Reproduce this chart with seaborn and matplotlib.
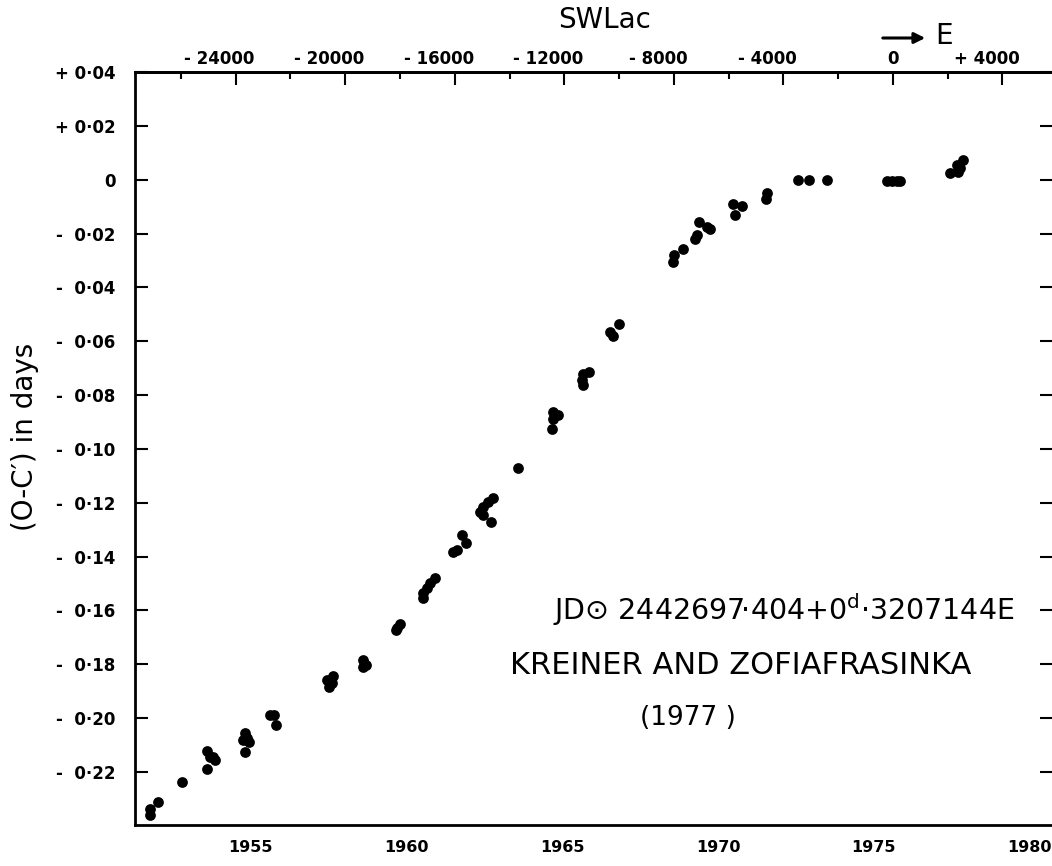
import numpy as np
import pandas as pd
import matplotlib
matplotlib.use("Agg")
import matplotlib.pyplot as plt
from matplotlib.ticker import FixedLocator
from matplotlib.transforms import ScaledTranslation
import seaborn as sns

# ---- data: (year, O-C in days) ----
years = [1951.79, 1951.79, 1952.05, 1952.82,
         1953.62, 1953.62, 1953.81, 1953.88, 1953.72,
         1954.84, 1954.78, 1954.90, 1954.97, 1954.84,
         1955.64, 1955.77, 1955.83,
         1957.47, 1957.53, 1957.66, 1957.63,
         1958.62, 1958.72, 1958.62,
         1959.71, 1959.81, 1959.68,
         1960.93, 1960.77, 1960.67, 1960.54, 1960.54,
         1961.79, 1961.92, 1961.63, 1961.51,
         1962.79, 1962.63, 1962.47, 1962.37, 1962.47, 1962.72,
         1963.59,
         1964.71, 1964.87, 1964.71, 1964.68,
         1965.87, 1965.67, 1965.64, 1965.67,
         1966.83, 1966.54, 1966.63,
         1968.56, 1968.59, 1968.88,
         1969.26, 1969.33, 1969.39, 1969.65, 1969.74,
         1970.54, 1970.48, 1970.77,
         1971.57, 1971.54,
         1972.56, 1972.92, 1973.49,
         1975.42, 1975.58, 1975.74, 1975.83,
         1977.44, 1977.66, 1977.76, 1977.85, 1977.69]
oc = [-0.2338, -0.2360, -0.2312, -0.2237,
      -0.2122, -0.2189, -0.2145, -0.2156, -0.2145,
      -0.2056, -0.2082, -0.2074, -0.2089, -0.2126,
      -0.1989, -0.1989, -0.2026,
      -0.1859, -0.1885, -0.1844, -0.1870,
      -0.1785, -0.1803, -0.1810,
      -0.1665, -0.1651, -0.1672,
      -0.1480, -0.1498, -0.1517, -0.1535, -0.1554,
      -0.1320, -0.1350, -0.1376, -0.1383,
      -0.1182, -0.1197, -0.1216, -0.1234, -0.1246, -0.1272,
      -0.1071,
      -0.0863, -0.0874, -0.0889, -0.0926,
      -0.0714, -0.0722, -0.0744, -0.0763,
      -0.0536, -0.0566, -0.0581,
      -0.0306, -0.0280, -0.0257,
      -0.0220, -0.0205, -0.0157, -0.0176, -0.0183,
      -0.0131, -0.0090, -0.0098,
      -0.0049, -0.0072,
      0.0000, 0.0000, 0.0000,
      -0.0005, -0.0005, -0.0005, -0.0005,
      0.0025, 0.0055, 0.0043, 0.0073, 0.0029]

year_ticks = [1955, 1960, 1965, 1970, 1975, 1980]
oc_ticks = [0.04, 0.02, 0.0, -0.02, -0.04, -0.06, -0.08, -0.10, -0.12,
            -0.14, -0.16, -0.18, -0.20, -0.22]
oc_labels = ["+ 0·04", "+ 0·02", "0", "-  0·02", "-  0·04", "-  0·06",
             "-  0·08", "-  0·10", "-  0·12", "-  0·14", "-  0·16",
             "-  0·18", "-  0·20", "-  0·22"]
E_major = [-24000, -20000, -16000, -12000, -8000, -4000, 0, 4000]
E_minor = [-26000, -22000, -18000, -14000, -10000, -6000, -2000, 2000]

# ephemeris: E = 0 epoch as placed on the figure, period 0.3207144 d
E0_YEAR = 1975.61
P_YEAR = 0.3207144 / 365.25

df = pd.DataFrame({"year": years, "oc": oc})

sns.set_style("white")
plt.rcParams["font.family"] = ["DejaVu Sans"]
plt.rcParams["text.color"] = "black"
plt.rcParams["xtick.color"] = "black"
plt.rcParams["ytick.color"] = "black"
plt.rcParams["axes.labelcolor"] = "black"

W, H = 1052, 866
fig = plt.figure(figsize=(W / 100, H / 100), dpi=100)
ax = fig.add_axes([135 / W, 41 / H, 917 / W, 753 / H])

sns.scatterplot(data=df, x="year", y="oc", ax=ax, color="black",
                s=60, linewidth=0, legend=False)

ax.set_xlim(1951.31, 1980.71)
ax.set_ylim(-0.2397, 0.04)

ax.set_xticks(year_ticks)
ax.set_xticklabels([str(y) for y in year_ticks], fontsize=11.5, fontweight="bold")
ax.set_yticks(oc_ticks)
ax.set_yticklabels(oc_labels, fontsize=12, fontweight="bold")
ax.tick_params(axis="x", direction="in", length=9, width=1.5, pad=11, colors="black")
ax.tick_params(axis="y", direction="in", length=9, width=1.5, pad=14,
               right=True, left=True, colors="black")
ax.set_xlabel("")
ax.set_ylabel("")

for side in ["left", "bottom", "top"]:
    ax.spines[side].set_visible(True)
    ax.spines[side].set_color("black")
    ax.spines[side].set_linewidth(2)
ax.spines["right"].set_visible(False)

# top axis in cycle numbers E
secax = ax.secondary_xaxis("top",
                           functions=(lambda y: (y - E0_YEAR) / P_YEAR,
                                      lambda e: E0_YEAR + e * P_YEAR))
secax.set_xticks(E_major)


def fmt_E(e):
    if e < 0:
        return "- " + str(abs(e))
    if e > 0:
        return "+ " + str(e)
    return "0"


secax.set_xticklabels([fmt_E(e) for e in E_major], fontsize=12, fontweight="bold")
secax.xaxis.set_minor_locator(FixedLocator(E_minor))
secax.tick_params(which="major", direction="in", length=9, width=1.5, pad=3,
                  colors="black")
secax.tick_params(which="minor", direction="in", length=5, width=1.5,
                  colors="black")
secax.spines["top"].set_linewidth(2)
secax.spines["top"].set_color("black")
shift = ScaledTranslation(-16 / 100, 0, fig.dpi_scale_trans)
for lab, e in zip(secax.get_xticklabels(), E_major):
    if e != 0:
        lab.set_transform(lab.get_transform() + shift)

# labels and annotations
fig.text(25 / W, 1 - 437 / H, "(O-C′) in days", rotation=90,
         ha="center", va="center", fontsize=20)
fig.text(605 / W, 1 - 20 / H, "SWLac", ha="center", va="center", fontsize=20)
fig.patches.append(matplotlib.patches.FancyArrowPatch(
    (880 / W, 1 - 38 / H), (928 / W, 1 - 38 / H), transform=fig.transFigure,
    arrowstyle="-|>", mutation_scale=16, linewidth=2.2, color="black"))
fig.text(944 / W, 1 - 36 / H, "E", ha="center", va="center", fontsize=20)

ax.text((553 - 135) / 917, (825 - 610) / 753,
        "JD⊙ 2442697·404+0$^{\\mathrm{d}}$·3207144E",
        transform=ax.transAxes, ha="left", va="center", fontsize=20.5)
ax.text((510 - 135) / 917, (825 - 665) / 753, "KREINER AND ZOFIAFRASINKA",
        transform=ax.transAxes, ha="left", va="center", fontsize=22)
ax.text((640 - 135) / 917, (825 - 718) / 753, "(1977 )",
        transform=ax.transAxes, ha="left", va="center", fontsize=19)

fig.savefig("out.png", dpi=100)
